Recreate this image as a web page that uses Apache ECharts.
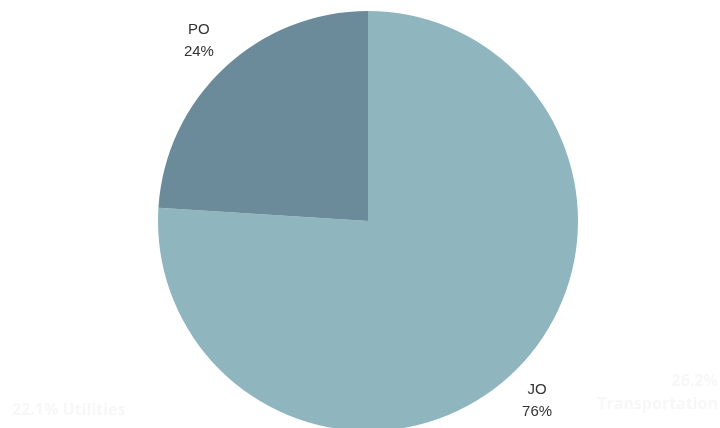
<!DOCTYPE html>
<html lang="en">
<head>
	<meta charset="UTF-8">
	<title>JO / PO</title>
</head>
<style>
	html, body { margin: 0; padding: 0; background: #fff; }
	#main {
		width: 720px;
		height: 428px;
	}
</style>
<body>
	<div id="main"></div>
	<script src="https://cdn.jsdelivr.net/npm/echarts@6/dist/echarts.min.js"></script>
	<script>
		var categories = ['JO', 'PO'];
		var values = [76, 24];
		var colors = ['#8FB6BE', '#6B8B9B'];

		var pieData = categories.map(function (name, i) {
			return { name: name, value: values[i], itemStyle: { color: colors[i] } };
		});

		var myChart = echarts.init(document.getElementById('main'));
		var option = {
			animation: false,
			backgroundColor: '#fff',
			// faint leftovers from the background image
			graphic: [
				{ type: 'text', left: 12, top: 402, style: { text: '22.1% Utilities', fill: '#f7f7f7', font: 'bold 16px "Open Sans"' } },
				{ type: 'text', right: 2, top: 373, style: { text: '26.2%', fill: '#f7f7f7', font: 'bold 16px "Open Sans"', align: 'right' } },
				{ type: 'text', right: 2, top: 396, style: { text: 'Transportation', fill: '#f7f7f7', font: 'bold 16px "Open Sans"', align: 'right' } }
			],
			series: [
				{
					type: 'pie',
					center: [368, 221],
					radius: [0, 210],
					startAngle: 90,
					clockwise: true,
					label: { show: false },
					labelLine: { show: false },
					data: pieData
				},
				{
					// transparent ring only used to place labels at a fixed distance
					type: 'pie',
					center: [368, 221],
					radius: [0, 488],
					startAngle: 90,
					clockwise: true,
					silent: true,
					itemStyle: { color: 'rgba(0,0,0,0)' },
					label: {
						show: true,
						position: 'inside',
						formatter: '{b}\n{d}%',
						color: '#333',
						fontSize: 15,
						lineHeight: 22,
						fontFamily: 'Liberation Sans, Arial, sans-serif'
					},
					labelLine: { show: false },
					data: categories.map(function (name, i) {
						return { name: name, value: values[i] };
					})
				}
			]
		};
		myChart.setOption(option);
	</script>
</body>
</html>
